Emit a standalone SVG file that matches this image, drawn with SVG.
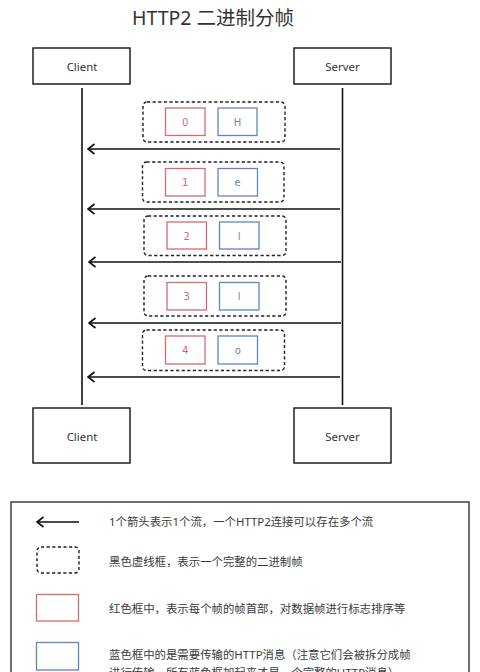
<svg xmlns="http://www.w3.org/2000/svg" width="480" height="672" viewBox="0 0 480 672">
<style>
.bg{fill:#ffffff}
.node{fill:#ffffff;stroke:#111111;stroke-width:1.4}
.lbl{font-family:"Noto Sans","Noto Sans CJK SC",sans-serif;font-size:11.4px;fill:#333333;text-anchor:middle}
.title{font-family:"Noto Sans","Noto Sans CJK SC",sans-serif;font-size:19.5px;fill:#333333}
.life{stroke:#111111;stroke-width:1.6;fill:none}
.flow{stroke:#111111;stroke-width:1.6;fill:none}
.dash{fill:none;stroke:#222222;stroke-width:1.4;stroke-dasharray:3.2 2.4}
.red{fill:#ffffff;stroke:#d46c6c;stroke-width:1.3}
.blue{fill:#ffffff;stroke:#5f84c6;stroke-width:1.3}
.rt{font-family:"DejaVu Sans",sans-serif;font-size:10px;fill:#cc6a7c;text-anchor:middle}
.bt{font-family:"DejaVu Sans",sans-serif;font-size:10px;fill:#6a8cc6;text-anchor:middle}
.leg{font-family:"Noto Sans","Noto Sans CJK SC",sans-serif;font-size:11.4px;fill:#3a3a3a}
</style>
<defs>
<marker id="open" viewBox="0 0 10 12" refX="8.5" refY="6" markerWidth="10" markerHeight="12" markerUnits="userSpaceOnUse" orient="auto">
<path d="M2,1 L8.5,6 L2,11" fill="none" stroke="#111111" stroke-width="1.6"/>
</marker>
</defs>
<rect class="bg" x="0" y="0" width="480" height="672"/>
<text class="title" x="132" y="24.5">HTTP2 二进制分帧</text>

<g id="client-top"><rect class="node" x="33" y="48" width="97" height="36"/><text class="lbl" x="82" y="71">Client</text></g>
<g id="server-top"><rect class="node" x="294" y="48" width="97" height="36"/><text class="lbl" x="342.5" y="71">Server</text></g>
<g id="client-bottom"><rect class="node" x="33" y="408" width="97" height="55"/><text class="lbl" x="82" y="440.5">Client</text></g>
<g id="server-bottom"><rect class="node" x="294" y="408" width="97" height="55"/><text class="lbl" x="342.5" y="440.5">Server</text></g>

<g id="frame-0">
<rect class="dash" x="143" y="102" width="142" height="40" rx="4"/>
<rect class="red" x="165.5" y="108" width="39.5" height="27.5"/><text class="rt" x="185.2" y="125.5">0</text>
<rect class="blue" x="218" y="108" width="39" height="27.5"/><text class="bt" x="237.5" y="125.5">H</text>
</g>
<g id="frame-1">
<rect class="dash" x="142.5" y="162" width="141.5" height="40" rx="4"/>
<rect class="red" x="165.5" y="168.5" width="39.5" height="27.5"/><text class="rt" x="185.2" y="186">1</text>
<rect class="blue" x="218" y="168.5" width="39.5" height="27.5"/><text class="bt" x="237.7" y="186">e</text>
</g>
<g id="frame-2">
<rect class="dash" x="144" y="216" width="142" height="39.5" rx="4"/>
<rect class="red" x="167" y="222" width="39.5" height="27"/><text class="rt" x="186.7" y="239.5">2</text>
<rect class="blue" x="219.5" y="222" width="39.5" height="27"/><text class="bt" x="239.2" y="239.5">l</text>
</g>
<g id="frame-3">
<rect class="dash" x="144" y="276" width="142" height="40" rx="4"/>
<rect class="red" x="167" y="282.5" width="39.5" height="27.5"/><text class="rt" x="186.7" y="300">3</text>
<rect class="blue" x="219.5" y="282.5" width="39.5" height="27.5"/><text class="bt" x="239.2" y="300">l</text>
</g>
<g id="frame-4">
<rect class="dash" x="142.5" y="330" width="142" height="40.5" rx="4"/>
<rect class="red" x="165.5" y="336" width="39.5" height="28"/><text class="rt" x="185.2" y="353.5">4</text>
<rect class="blue" x="218" y="336" width="39.5" height="28"/><text class="bt" x="237.7" y="353.5">o</text>
</g>

<g id="connectors">
<line class="life" x1="82" y1="88" x2="82" y2="405"/>
<line class="life" x1="342.5" y1="88" x2="342.5" y2="405"/>
<line class="flow" x1="340" y1="149" x2="88" y2="149" marker-end="url(#open)"/>
<line class="flow" x1="340" y1="209" x2="88" y2="209" marker-end="url(#open)"/>
<line class="flow" x1="341" y1="262" x2="89" y2="262" marker-end="url(#open)"/>
<line class="flow" x1="341" y1="323" x2="89" y2="323" marker-end="url(#open)"/>
<line class="flow" x1="340" y1="377" x2="88" y2="377" marker-end="url(#open)"/>
</g>

<g id="legend">
<rect x="11" y="502" width="458" height="200" fill="#ffffff" stroke="#333333" stroke-width="1.4"/>
<line class="flow" x1="79" y1="522" x2="37" y2="522" marker-end="url(#open)"/>
<text class="leg" x="109" y="526">1个箭头表示1个流，一个HTTP2连接可以存在多个流</text>
<rect class="dash" x="37" y="547" width="42" height="26" rx="4"/>
<text class="leg" x="109" y="565.5">黑色虚线框，表示一个完整的二进制帧</text>
<rect class="red" x="36.5" y="594.5" width="42" height="26.5"/>
<text class="leg" x="109" y="613">红色框中，表示每个帧的帧首部，对数据帧进行标志排序等</text>
<rect class="blue" x="36.5" y="642.5" width="42" height="27.5"/>
<text class="leg" x="109" y="659.3">蓝色框中的是需要传输的HTTP消息（注意它们会被拆分成帧</text>
<text class="leg" x="109" y="676.5">进行传输，所有蓝色框加起来才是一个完整的HTTP消息）</text>
</g>
</svg>
